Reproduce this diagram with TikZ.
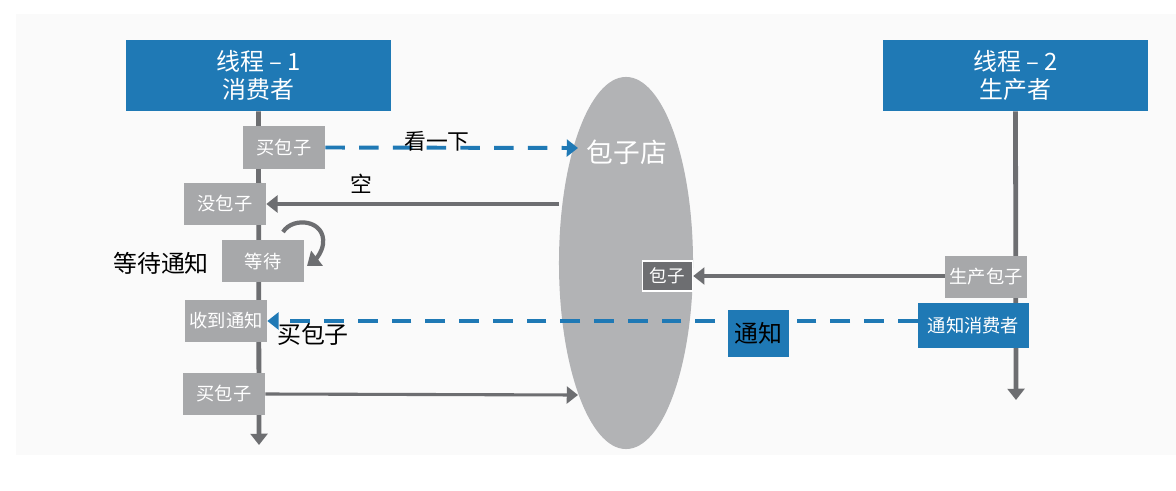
\documentclass[tikz,border=0pt]{standalone}
\usepackage{fontspec}
\setmainfont{Noto Sans CJK SC}
\usetikzlibrary{arrows.meta,shapes.geometric}
\definecolor{thblue}{HTML}{1F79B5}
\definecolor{boxgray}{HTML}{A7A8AA}
\definecolor{linegray}{HTML}{6D6E71}
\definecolor{shopgray}{HTML}{B2B3B5}
\tikzset{
  head/.style={fill=thblue,text=white,minimum width=6.6cm,minimum height=1.78cm,align=center,font=\fontsize{17}{20}\selectfont,inner sep=0pt},
  actbox/.style={fill=boxgray,text=white,minimum width=2.05cm,minimum height=1.05cm,font=\fontsize{13}{15}\selectfont,inner sep=0pt},
  bluebox/.style={fill=thblue,inner sep=0pt},
  life/.style={linegray,line width=3.4pt,-{Triangle[length=8pt,width=12pt]}},
  msg/.style={linegray,line width=2.2pt,-{Triangle[length=8pt,width=12pt]}},
  ask/.style={thblue,line width=2.8pt,dash pattern=on 14pt off 10pt,-{Triangle[length=8pt,width=12pt]}},
  lbl/.style={font=\fontsize{15.5}{18}\selectfont,inner sep=0pt}
}
\begin{document}
\begin{tikzpicture}[x=0.025cm,y=-0.025cm]
\useasboundingbox (0,0) rectangle (1176,491);
\fill[white] (0,0) rectangle (1176,491);
\fill[black!2] (16,14) rectangle (1176,455);
% threads
\node[head] (t1) at (258.5,75.5) {线程 – 1\\消费者};
\node[head] (t2) at (1015.5,75.5) {线程 – 2\\生产者};
\coordinate (e1) at (259,445);
\coordinate (e2) at (1016,400);
\draw[life] (t1.south) -- (e1);
\draw[life] (t2.south) -- (e2);
% shop
\node[ellipse,fill=shopgray,minimum width=3.35cm,minimum height=9.3cm,inner sep=0pt] (shop) at (626,263) {};
\node[text=white,font=\fontsize{19}{22}\selectfont,inner sep=0pt] (shopname) at (627,152) {包子店};
\node[fill=linegray,draw=white,line width=1pt,text=white,minimum width=1.25cm,minimum height=0.75cm,font=\fontsize{12.5}{14}\selectfont,inner sep=0pt] (bun) at (667.5,276) {包子};
% consumer steps
\node[actbox] (buy) at (284,147.5) {买包子};
\node[actbox] (none) at (225,204) {没包子};
\node[actbox] (wait) at (263,261) {等待};
\node[actbox] (got) at (226,321) {收到通知};
\node[actbox] (buy2) at (224,394) {买包子};
% producer steps
\node[actbox] (make) at (986,277) {生产包子};
\node[bluebox,text=white,minimum width=2.78cm,minimum height=1.12cm,font=\fontsize{13}{15}\selectfont] (notify) at (973.5,325.5) {通知消费者};
% messages
\coordinate (look) at (578,148);
\coordinate (emptyfrom) at (559,204);
\coordinate (buyto) at (578,395);
\draw[ask] (buy.east) -- (look);
\node[lbl] (lookl) at (437,141) {看一下};
\draw[msg] (emptyfrom) -- (none.east);
\node[lbl] (emptyl) at (361,184) {空};
\draw[linegray,line width=3pt,-{Triangle[length=9pt,width=13pt]}] (283,232) .. controls (293,216) and (326,220) .. (323,244) .. controls (322,252) and (316,259) .. (307,266);
\node[lbl,font=\fontsize{17}{20}\selectfont] (waitl) at (161,263) {等待通知};
\draw[msg] (make.west |- bun.east) -- (bun.east);
\draw[ask] (notify.west |- got.east) -- (got.east);
\node[bluebox,minimum width=1.52cm,minimum height=1.18cm,font=\fontsize{17}{20}\selectfont] (note) at (758.5,333.5) {通知};
\node[lbl,font=\fontsize{17}{20}\selectfont] (buyl) at (313,334) {买包子};
\draw[msg] (buy2.east) -- (buyto);
\end{tikzpicture}
\end{document}
